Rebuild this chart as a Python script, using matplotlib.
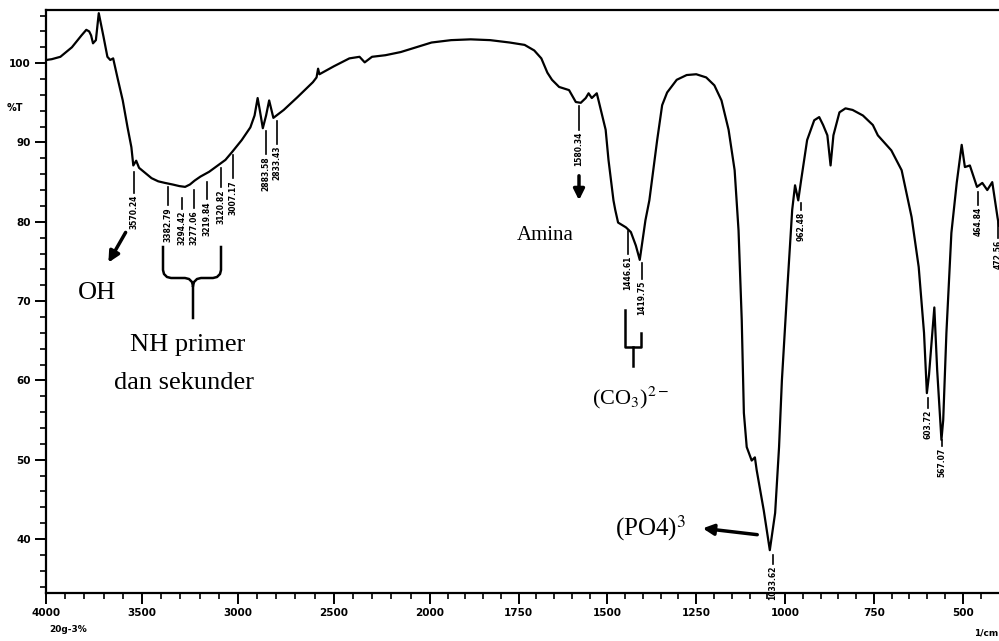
import numpy as np
import matplotlib.pyplot as plt
from matplotlib.ticker import FixedLocator, NullFormatter

# FTIR spectrum: wavenumber (1/cm) and %T
wavenumber = [3998, 3970, 3925, 3865, 3815, 3790, 3775, 3765, 3755, 3740,
              3725, 3700, 3680, 3665, 3650, 3640, 3625, 3600, 3575, 3555,
              3545, 3530, 3515, 3490, 3450, 3415, 3380, 3340, 3305, 3275,
              3250, 3225, 3195, 3150, 3105, 3065, 3030, 2980, 2935, 2913,
              2897, 2886, 2870, 2853, 2837, 2815, 2761, 2690, 2609, 2590,
              2582, 2575, 2500, 2419, 2366, 2339, 2301, 2231, 2151, 2070,
              1995, 1940, 1885, 1830, 1775, 1733, 1706, 1686, 1669, 1656,
              1636, 1608, 1589, 1575, 1561, 1553, 1544, 1530, 1525, 1505,
              1497, 1483, 1478, 1470, 1448, 1434, 1420, 1409, 1401, 1393,
              1382, 1360, 1346, 1332, 1305, 1277, 1250, 1222, 1199, 1179,
              1159, 1142, 1131, 1122, 1116, 1108, 1094, 1085, 1080, 1060,
              1043, 1028, 1017, 1009, 994, 980, 972, 963, 955, 938,
              918, 904, 893, 881, 872, 864, 847, 830, 810, 781,
              753, 739, 701, 672, 644, 624, 609, 601, 595, 580,
              572, 560, 555, 546, 532, 517, 503, 494, 480, 460,
              445, 431, 417, 402, 398]
transmittance = [100.4, 100.5, 100.8, 102.0, 103.5, 104.2, 104.0, 103.5, 102.5, 102.9,
                 106.3, 103.3, 100.8, 100.4, 100.6, 99.5, 97.9, 95.3, 91.9, 89.4,
                 87.1, 87.7, 86.8, 86.3, 85.5, 85.1, 84.9, 84.7, 84.5, 84.4,
                 84.7, 85.2, 85.7, 86.3, 87.1, 87.8, 88.8, 90.3, 91.9, 93.4,
                 95.6, 94.1, 91.8, 93.4, 95.3, 93.1, 94.1, 95.7, 97.6, 98.2,
                 99.3, 98.6, 99.6, 100.6, 100.8, 100.1, 100.8, 101.0, 101.4, 102.0,
                 102.6, 102.9, 103.0, 102.9, 102.6, 102.3, 101.6, 100.6, 98.8, 97.9,
                 97.0, 96.6, 95.1, 95.0, 95.6, 96.2, 95.6, 96.2, 95.3, 91.6,
                 87.8, 82.7, 81.5, 79.9, 79.3, 78.7, 77.0, 75.2, 77.7, 80.2,
                 82.7, 90.3, 94.7, 96.3, 97.9, 98.5, 98.6, 98.2, 97.2, 95.3,
                 91.6, 86.5, 78.9, 67.6, 55.9, 51.6, 49.9, 50.3, 48.7, 43.6,
                 38.6, 43.3, 51.6, 60.0, 71.4, 81.5, 84.6, 82.7, 85.2, 90.3,
                 92.8, 93.2, 92.2, 90.9, 87.1, 90.9, 93.8, 94.3, 94.1, 93.4,
                 92.2, 90.9, 89.0, 86.5, 80.6, 74.3, 66.0, 58.4, 60.7, 69.2,
                 61.3, 52.5, 55.0, 66.0, 78.6, 84.9, 89.7, 86.9, 87.1, 84.4,
                 84.9, 84.0, 85.0, 80.5, 79.5]

x_major = [4000, 3500, 3000, 2500, 2000, 1750, 1500, 1250, 1000, 750, 500]
y_major = [40, 50, 60, 70, 80, 90, 100]

# peak labels: text, x pixel, top of leader, top of text (pixels from top-left)
peak_labels = [
    ("3570.24", 134, 172, 195),
    ("3382.79", 168, 187, 207),
    ("3294.42", 182, 198, 211),
    ("3277.06", 194, 190, 210),
    ("3219.84", 207, 182, 201),
    ("3120.82", 221, 168, 189),
    ("3007.17", 233, 155, 180),
    ("2883.58", 266, 131, 156),
    ("2833.43", 277, 121, 146),
    ("1580.34", 579, 106, 132),
    ("1446.61", 628, 231, 256),
    ("1419.75", 642, 263, 281),
    ("1033.62", 773, 555, 566),
    ("962.48", 801, 203, 212),
    ("603.72", 928, 398, 410),
    ("567.07", 942, 440, 448),
    ("464.84", 978, 192, 207),
    ("472.56", 998, 222, 240),
]

W, H = 999, 641


# Shimadzu-style axis: 4000-2000 compressed, 2000-400 expanded
def fwd(w):
    w = np.asarray(w, dtype=float)
    return -np.where(w >= 2000, (4000 - w) / 500 * 1.08, 4.32 + (2000 - w) / 250)


def inv(u):
    u = -np.asarray(u, dtype=float)
    return np.where(u <= 4.32, 4000 - u / 1.08 * 500, 2000 - (u - 4.32) * 250)


fig = plt.figure(figsize=(W / 100, H / 100), dpi=100)
plt.rcParams['mathtext.fontset'] = 'stix'
ax = fig.add_axes([46 / W, 1 - 593 / H, (W - 46) / W, (593 - 10) / H])
ax.set_xscale('function', functions=(fwd, inv))
ax.plot(wavenumber, transmittance, color='black', lw=1.6)
ax.set_xlim(4000, 398)
ax.set_ylim(33.2, 106.7)

ax.xaxis.set_major_locator(FixedLocator(x_major))
ax.xaxis.set_minor_locator(FixedLocator(list(range(3900, 2000, -100)) + list(range(1950, 400, -50))))
ax.xaxis.set_minor_formatter(NullFormatter())
ax.set_xticklabels([str(v) for v in x_major])
ax.yaxis.set_major_locator(FixedLocator(y_major))
ax.yaxis.set_minor_locator(FixedLocator(list(range(34, 107, 2))))
ax.set_yticklabels([str(v) for v in y_major])
ax.tick_params(which='major', direction='out', length=8, width=1.4, labelsize=7.5, pad=3)
ax.tick_params(which='minor', direction='out', length=4, width=1.2)
for lab in ax.get_xticklabels() + ax.get_yticklabels():
    lab.set_fontweight('bold')
ax.spines['right'].set_visible(False)
for s in ['left', 'bottom', 'top']:
    ax.spines[s].set_linewidth(1.6)


def pix(x, y):
    return (x, H - y)


def fig_line(xs, ys, lw=1.2):
    ax.plot(np.array(xs) / W, 1 - np.array(ys) / H, color='black', lw=lw,
            transform=fig.transFigure, clip_on=False)


for txt, x, y0, y1 in peak_labels:
    fig_line([x, x], [y0, y1 - 2], lw=1.2)
    ax.annotate(txt, xy=pix(x, y1), xycoords='figure pixels', rotation=90,
                ha='center', va='top', fontsize=5.5, fontweight='bold')

serif = 'Liberation Serif'
ax.annotate('%T', xy=pix(15, 108), xycoords='figure pixels', ha='center', va='center',
            fontsize=7, fontweight='bold')
ax.annotate('20g-3%', xy=pix(68, 630), xycoords='figure pixels', ha='center', va='center',
            fontsize=6.5, fontweight='bold')
ax.annotate('1/cm', xy=pix(998, 633), xycoords='figure pixels', ha='right', va='center',
            fontsize=6.5, fontweight='bold')

ax.annotate('OH', xy=pix(97, 293), xycoords='figure pixels', ha='center', va='center',
            fontsize=19, family=serif)
ax.annotate('NH primer', xy=pix(188, 345), xycoords='figure pixels', ha='center',
            va='center', fontsize=19, family=serif)
ax.annotate('dan sekunder', xy=pix(184, 383), xycoords='figure pixels', ha='center',
            va='center', fontsize=19, family=serif)
ax.annotate('Amina', xy=pix(545, 236), xycoords='figure pixels', ha='center',
            va='center', fontsize=15, family=serif)
ax.annotate('(CO$_3$)$^{2-}$', xy=pix(630, 398), xycoords='figure pixels', ha='center',
            va='center', fontsize=16, family=serif)
ax.annotate('(PO4)$^3$', xy=pix(651, 528), xycoords='figure pixels', ha='center',
            va='center', fontsize=18, family=serif)

arrow = dict(arrowstyle='-|>', lw=2.5, color='black', mutation_scale=16)
ax.annotate('', xy=pix(107, 265), xytext=pix(127, 230), xycoords='figure pixels',
            textcoords='figure pixels', arrowprops=arrow)
ax.annotate('', xy=pix(579, 203), xytext=pix(579, 173), xycoords='figure pixels',
            textcoords='figure pixels', arrowprops=arrow)
ax.annotate('', xy=pix(700, 528), xytext=pix(760, 535), xycoords='figure pixels',
            textcoords='figure pixels', arrowprops=arrow)

# brace under the NH bands
fig_line([163, 163, 164, 167, 171, 185, 189, 192, 193, 193],
         [247, 270, 274, 277, 278, 278, 279, 282, 286, 318], lw=1.8)
fig_line([221, 221, 220, 217, 213, 201, 197, 194, 193],
         [247, 270, 274, 277, 278, 278, 279, 282, 286], lw=1.8)
# bracket under the carbonate bands
fig_line([625, 625, 641, 641], [310, 347, 347, 333], lw=1.8)
fig_line([633, 633], [347, 366], lw=1.8)

fig.savefig('out.png', dpi=100)
